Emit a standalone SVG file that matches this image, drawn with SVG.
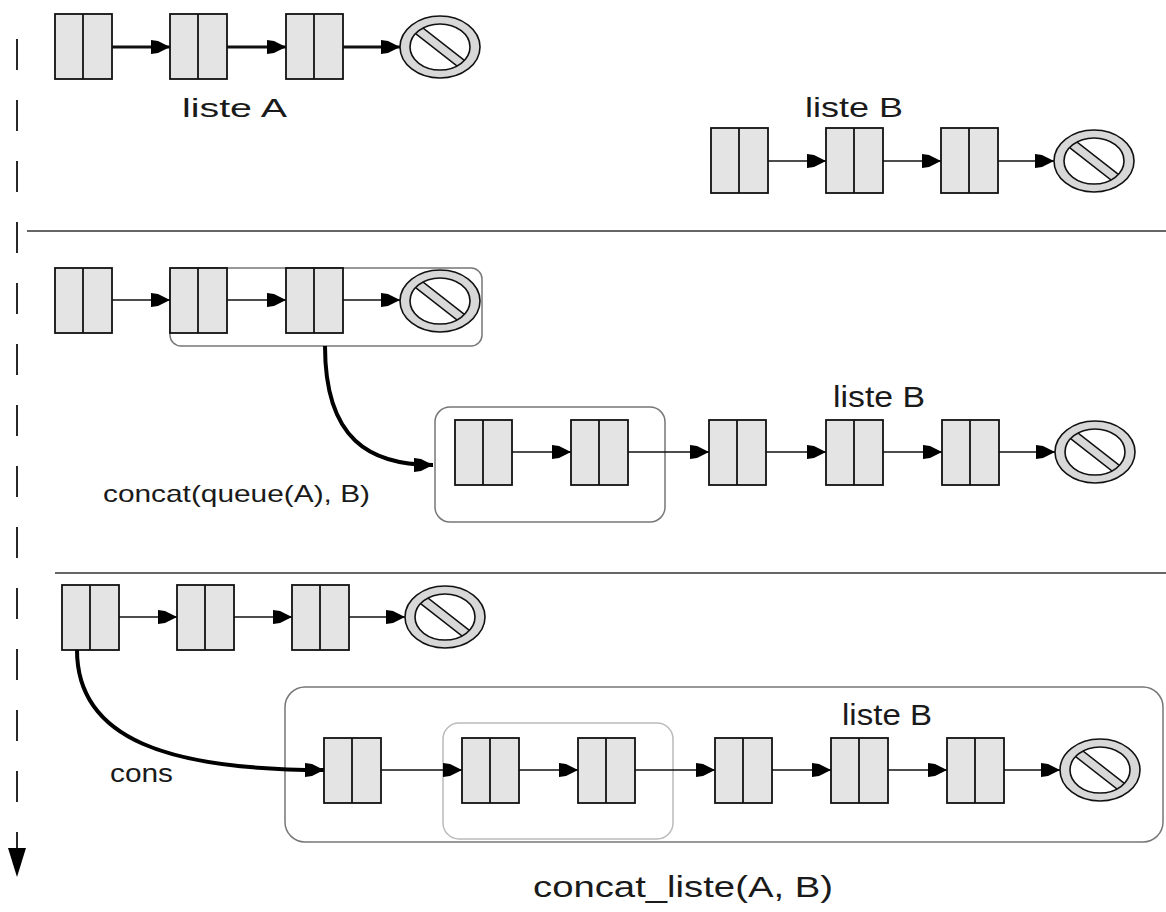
<svg xmlns="http://www.w3.org/2000/svg" xmlns:xlink="http://www.w3.org/1999/xlink" width="1166" height="912" viewBox="0 0 1166 912">
<style>
.cell{fill:#e4e4e4;stroke:#111;stroke-width:1.8}
.div{stroke:#111;stroke-width:1.8}
.ln{fill:none;stroke:#111;stroke-width:1.6}
.thick{fill:none;stroke:#111;stroke-width:3}
.curve{fill:none;stroke:#000;stroke-width:4}
.grp{fill:none;stroke:#777;stroke-width:1.5}
.grp2{fill:none;stroke:#bbb;stroke-width:1.5}
.sep{stroke:#333;stroke-width:1.6}
.lbl{font-family:"Liberation Sans",Arial,sans-serif;fill:#1a1a1a}
</style>
<defs>
<marker id="ah" markerUnits="userSpaceOnUse" viewBox="0 0 20 16" markerWidth="20" markerHeight="16" refX="19" refY="8" orient="auto">
<path d="M0,1 L7,2 L19,8 L7,14 L0,15 Z" fill="#000"/>
</marker>
<clipPath id="inner"><ellipse cx="0" cy="0" rx="30" ry="23"/></clipPath>
<g id="nil">
<ellipse cx="0" cy="0" rx="40" ry="31" fill="#d8d8d8" stroke="#111" stroke-width="1.6"/>
<ellipse cx="0" cy="0" rx="30" ry="23" fill="#fff"/>
<g clip-path="url(#inner)"><rect x="-50" y="-4.5" width="100" height="9" transform="rotate(38)" fill="#d8d8d8" stroke="#111" stroke-width="1.5"/></g>
<ellipse cx="0" cy="0" rx="30" ry="23" fill="none" stroke="#111" stroke-width="1.6"/>
</g>
<g id="cell">
<rect class="cell" x="0" y="0" width="57" height="65"/>
<line class="div" x1="28" y1="0" x2="28" y2="65"/>
</g>
</defs>
<rect width="1166" height="912" fill="#fff"/>

<g id="timeline">
<line x1="17" y1="39" x2="17" y2="850" stroke="#111" stroke-width="1.8" stroke-dasharray="31 30"/>
<path d="M8,848 L26,848 L17,877 Z" fill="#000"/>
</g>
<g id="separators">
<line class="sep" x1="27" y1="231" x2="1166" y2="231"/>
<line class="sep" x1="55" y1="573" x2="1166" y2="573"/>
</g>

<g id="groups">
<rect class="grp" x="170" y="268" width="312" height="78" rx="11"/>
<rect class="grp" x="435" y="407" width="230" height="115" rx="15"/>
<rect class="grp" x="285" y="687" width="878" height="155" rx="20" stroke="#666"/>
<rect class="grp2" x="443" y="723" width="230" height="116" rx="16"/>
</g>

<g id="nodes">
<g id="a1"><use xlink:href="#cell" x="55" y="14"/></g>
<g id="a2"><use xlink:href="#cell" x="170" y="14"/></g>
<g id="a3"><use xlink:href="#cell" x="286" y="14"/></g>
<g id="anil"><use xlink:href="#nil" x="440" y="47"/></g>
<g id="b1"><use xlink:href="#cell" x="711" y="128"/></g>
<g id="b2"><use xlink:href="#cell" x="826" y="128"/></g>
<g id="b3"><use xlink:href="#cell" x="941" y="128"/></g>
<g id="bnil"><use xlink:href="#nil" x="1094" y="161"/></g>

<g id="s2a1"><use xlink:href="#cell" x="55" y="268"/></g>
<g id="s2a2"><use xlink:href="#cell" x="170" y="268"/></g>
<g id="s2a3"><use xlink:href="#cell" x="286" y="268"/></g>
<g id="s2anil"><use xlink:href="#nil" x="440" y="301"/></g>
<g id="s2c1"><use xlink:href="#cell" x="455" y="420"/></g>
<g id="s2c2"><use xlink:href="#cell" x="571" y="420"/></g>
<g id="s2b1"><use xlink:href="#cell" x="709" y="420"/></g>
<g id="s2b2"><use xlink:href="#cell" x="826" y="420"/></g>
<g id="s2b3"><use xlink:href="#cell" x="942" y="420"/></g>
<g id="s2bnil"><use xlink:href="#nil" x="1095" y="452"/></g>

<g id="s3a1"><use xlink:href="#cell" x="62" y="585"/></g>
<g id="s3a2"><use xlink:href="#cell" x="177" y="585"/></g>
<g id="s3a3"><use xlink:href="#cell" x="292" y="585"/></g>
<g id="s3anil"><use xlink:href="#nil" x="445" y="617"/></g>
<g id="s3c0"><use xlink:href="#cell" x="324" y="738"/></g>
<g id="s3c1"><use xlink:href="#cell" x="462" y="738"/></g>
<g id="s3c2"><use xlink:href="#cell" x="578" y="738"/></g>
<g id="s3b1"><use xlink:href="#cell" x="715" y="738"/></g>
<g id="s3b2"><use xlink:href="#cell" x="831" y="738"/></g>
<g id="s3b3"><use xlink:href="#cell" x="947" y="738"/></g>
<g id="s3bnil"><use xlink:href="#nil" x="1100" y="770"/></g>
</g>

<g id="connectors" marker-end="url(#ah)">
<line class="thick" x1="112" y1="47" x2="170" y2="47"/>
<line class="thick" x1="227" y1="47" x2="286" y2="47"/>
<line class="thick" x1="343" y1="47" x2="400" y2="47"/>
<line class="ln" x1="768" y1="161" x2="826" y2="161"/>
<line class="ln" x1="883" y1="161" x2="941" y2="161"/>
<line class="ln" x1="998" y1="161" x2="1054" y2="161"/>

<line class="ln" x1="112" y1="300" x2="170" y2="300"/>
<line class="ln" x1="227" y1="300" x2="286" y2="300"/>
<line class="ln" x1="343" y1="300" x2="400" y2="300"/>
<path class="curve" d="M325,346 C325,440 370,465 433,465"/>
<line class="ln" x1="512" y1="452" x2="571" y2="452"/>
<line class="ln" x1="628" y1="452" x2="709" y2="452"/>
<line class="ln" x1="766" y1="452" x2="826" y2="452"/>
<line class="ln" x1="883" y1="452" x2="942" y2="452"/>
<line class="ln" x1="999" y1="452" x2="1055" y2="452"/>

<line class="ln" x1="119" y1="617" x2="177" y2="617"/>
<line class="ln" x1="234" y1="617" x2="292" y2="617"/>
<line class="ln" x1="349" y1="617" x2="405" y2="617"/>
<path class="curve" d="M77,650 C77,740 170,770 324,770"/>
<line class="ln" x1="381" y1="770" x2="462" y2="770"/>
<line class="ln" x1="519" y1="770" x2="578" y2="770"/>
<line class="ln" x1="635" y1="770" x2="715" y2="770"/>
<line class="ln" x1="772" y1="770" x2="831" y2="770"/>
<line class="ln" x1="888" y1="770" x2="947" y2="770"/>
<line class="ln" x1="1004" y1="770" x2="1060" y2="770"/>
</g>

<g id="labels" class="lbl">
<text x="182" y="117" font-size="26" textLength="105" lengthAdjust="spacingAndGlyphs">liste A</text>
<text x="805" y="117" font-size="28" textLength="98" lengthAdjust="spacingAndGlyphs">liste B</text>
<text x="833" y="407" font-size="30" textLength="92" lengthAdjust="spacingAndGlyphs">liste B</text>
<text x="103" y="502" font-size="24" textLength="267" lengthAdjust="spacingAndGlyphs">concat(queue(A), B)</text>
<text x="842" y="725" font-size="30" textLength="90" lengthAdjust="spacingAndGlyphs">liste B</text>
<text x="110" y="782" font-size="25" textLength="63" lengthAdjust="spacingAndGlyphs">cons</text>
<text x="533" y="897" font-size="30" textLength="300" lengthAdjust="spacingAndGlyphs">concat_liste(A, B)</text>
</g>
</svg>
